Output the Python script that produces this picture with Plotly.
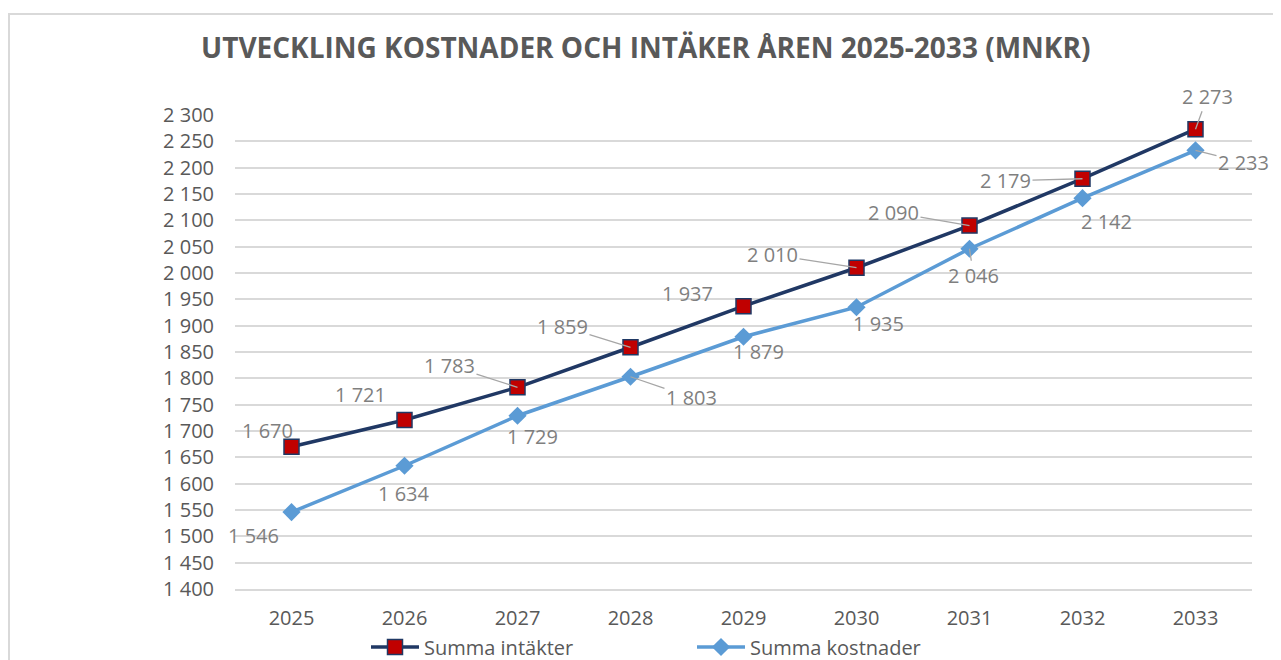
import plotly.graph_objects as go

years = ["2025", "2026", "2027", "2028", "2029", "2030", "2031", "2032", "2033"]
intakter = [1670, 1721, 1783, 1859, 1937, 2010, 2090, 2179, 2273]
kostnader = [1546, 1634, 1729, 1803, 1879, 1935, 2046, 2142, 2233]

# label offsets (px) from point, and whether a leader line is drawn
int_offsets = [(-24, -16, False), (-44, -25, False), (-68, -22, True), (-68, -21, True),
               (-56, -13, False), (-84, -13, True), (-76, -13, True), (-77, 2, True), (12, -33, True)]
kos_offsets = [(-38, 23, False), (-1, 28, False), (15, 21, False), (61, 21, True),
               (15, 15, False), (22, 16, False), (4, 27, True), (24, 23, False), (48, 12, True)]

NAVY = "#203864"
RED = "#c00000"
BLUE = "#5b9bd5"
GRID = "#d9d9d9"
TXT = "#595959"
LBL = "#7f7f7f"
FONT = "Open Sans"

# page body has an 8px margin; figure sized to fit the 1281x660 window
W, H, OFF = 1265, 652, 8
PL, PR, PT, PB = 235, 1252, 115, 589  # plot area in window pixels


def fmt(v):
    return f"{v:,}".replace(",", " ")


def px(sx):
    return (sx - PL) / (PR - PL)


def py(sy):
    return (PB - sy) / (PB - PT)


fig = go.Figure()
fig.add_trace(go.Scatter(
    x=years, y=intakter, name="Summa intäkter", mode="lines+markers",
    line=dict(color=NAVY, width=3.5),
    marker=dict(symbol="square", size=15, color=RED, line=dict(color=NAVY, width=1.5)),
    cliponaxis=False,
))
fig.add_trace(go.Scatter(
    x=years, y=kostnader, name="Summa kostnader", mode="lines+markers",
    line=dict(color=BLUE, width=3.5),
    marker=dict(symbol="diamond", size=14, color=BLUE),
    cliponaxis=False,
))

annotations = []
for series, offs in ((intakter, int_offsets), (kostnader, kos_offsets)):
    for i, (v, (dx, dy, lead)) in enumerate(zip(series, offs)):
        if lead:
            annotations.append(dict(
                x=i, y=v, xref="x", yref="y", text=fmt(v), showarrow=True,
                ax=dx, ay=dy, arrowhead=0, arrowwidth=1.3, arrowcolor="#a6a6a6",
                standoff=0, font=dict(family=FONT, size=20, color=LBL)))
        else:
            annotations.append(dict(
                x=i, y=v, xref="x", yref="y", text=fmt(v), showarrow=False,
                xshift=dx, yshift=-dy, font=dict(family=FONT, size=20, color=LBL)))

annotations.append(dict(
    text="<b>UTVECKLING KOSTNADER OCH INTÄKER ÅREN 2025-2033 (MNKR)</b>",
    xref="paper", yref="paper", x=px(645), y=py(47),
    xanchor="center", yanchor="middle", showarrow=False,
    font=dict(family=FONT, size=28, color=TXT)))

fig.update_layout(
    width=W, height=H,
    margin=dict(l=PL - OFF, r=W - (PR - OFF), t=PT - OFF, b=H - (PB - OFF)),
    paper_bgcolor="white", plot_bgcolor="white",
    separators=", ",
    font=dict(family=FONT, color=TXT),
    showlegend=True,
    legend=dict(orientation="h", xref="container", yref="container",
                x=(366 - OFF) / W, y=1 - (647 - OFF) / H,
                xanchor="left", yanchor="middle", itemwidth=48,
                entrywidth=263, entrywidthmode="pixels",
                font=dict(family=FONT, size=20, color=TXT), bgcolor="rgba(0,0,0,0)"),
    annotations=annotations,
    shapes=[dict(type="rect", xref="paper", yref="paper",
                 x0=px(9), x1=px(1300), y0=py(700), y1=py(14),
                 line=dict(color=GRID, width=2), layer="below")],
    xaxis=dict(type="category", range=[-0.5, 8.5], showgrid=False, zeroline=False,
               showline=True, linecolor=GRID, linewidth=1.5, ticks="",
               ticklabelstandoff=10, automargin=False,
               tickfont=dict(family=FONT, size=20, color=TXT)),
    yaxis=dict(range=[1400, 2300], dtick=50, tick0=1400, showgrid=True, gridcolor=GRID,
               gridwidth=1.5, zeroline=False, showline=False, ticks="",
               tickformat=",d", ticklabelstandoff=20, automargin=False,
               tickfont=dict(family=FONT, size=20, color=TXT)),
)

fig.write_html("out.html")
